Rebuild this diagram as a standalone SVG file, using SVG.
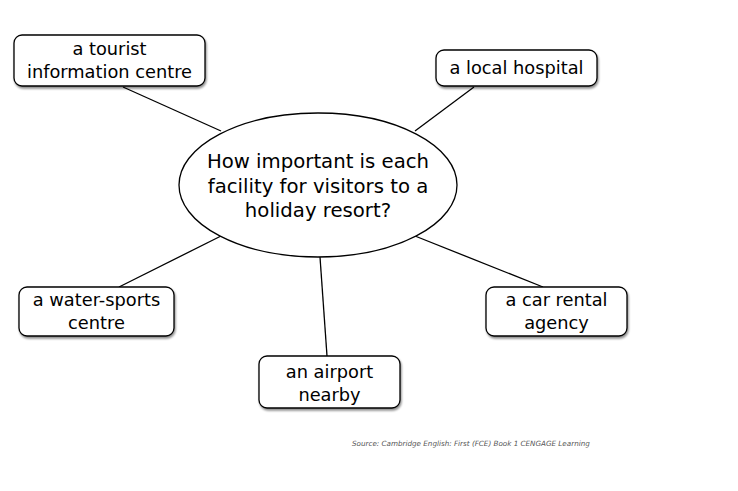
<svg xmlns="http://www.w3.org/2000/svg" width="738" height="491" viewBox="0 0 738 491">
<defs>
<filter id="sh" x="-10%" y="-10%" width="125%" height="140%">
<feGaussianBlur in="SourceAlpha" stdDeviation="1.2"/>
<feOffset dx="1" dy="2" result="b"/>
<feComponentTransfer><feFuncA type="linear" slope="0.45"/></feComponentTransfer>
<feMerge><feMergeNode/><feMergeNode in="SourceGraphic"/></feMerge>
</filter>
<style>
.box{fill:#fff;stroke:#000;stroke-width:1.3;filter:url(#sh)}
.t{font-family:"DejaVu Sans",Verdana,sans-serif;font-size:17.8px;fill:#000;text-anchor:middle}
.c{font-family:"DejaVu Sans",Verdana,sans-serif;font-size:19.7px;fill:#000;text-anchor:middle}
.ln{stroke:#000;stroke-width:1.3;fill:none}
.src{font-family:"DejaVu Sans",Verdana,sans-serif;font-size:7.2px;font-style:italic;fill:#555}
</style>
</defs>
<rect width="738" height="491" fill="#fff"/>
<g id="connectors">
<line class="ln" x1="123" y1="87" x2="221" y2="131"/>
<line class="ln" x1="474" y1="87" x2="415" y2="131"/>
<line class="ln" x1="119" y1="287" x2="221" y2="236"/>
<line class="ln" x1="320" y1="257" x2="327" y2="356"/>
<line class="ln" x1="415" y1="236" x2="543" y2="287"/>
</g>
<g id="center">
<ellipse cx="318" cy="185" rx="139" ry="72" fill="#fff" stroke="#000" stroke-width="1.3"/>
<text class="c" x="318" y="168">How important is each</text>
<text class="c" x="318" y="193">facility for visitors to a</text>
<text class="c" x="318" y="217">holiday resort?</text>
</g>
<g id="tourist">
<rect class="box" x="14" y="35" width="191" height="51" rx="8"/>
<text class="t" x="109.5" y="55">a tourist</text>
<text class="t" x="109.5" y="78">information centre</text>
</g>
<g id="hospital">
<rect class="box" x="436" y="50" width="161" height="36" rx="8"/>
<text class="t" x="516.5" y="74">a local hospital</text>
</g>
<g id="water">
<rect class="box" x="19" y="287" width="155" height="49" rx="8"/>
<text class="t" x="96.5" y="306">a water-sports</text>
<text class="t" x="96.5" y="329">centre</text>
</g>
<g id="airport">
<rect class="box" x="259" y="356" width="141" height="52" rx="8"/>
<text class="t" x="329.5" y="378">an airport</text>
<text class="t" x="329.5" y="401">nearby</text>
</g>
<g id="car">
<rect class="box" x="486" y="287" width="141" height="49" rx="8"/>
<text class="t" x="556.5" y="306">a car rental</text>
<text class="t" x="556.5" y="329">agency</text>
</g>
<text class="src" x="352" y="446">Source: Cambridge English: First (FCE) Book 1 CENGAGE Learning</text>
</svg>
